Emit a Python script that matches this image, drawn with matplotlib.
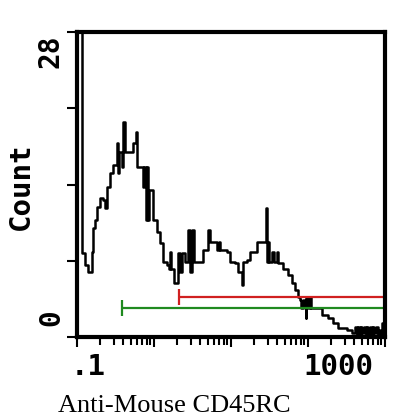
import matplotlib
matplotlib.use("Agg")
import matplotlib.pyplot as plt
from matplotlib.ticker import LogLocator, NullFormatter

# histogram bins (left edge, fluorescence) and counts
fluor = [0.100, 0.116, 0.127, 0.139, 0.155, 0.161, 0.170, 0.180, 0.199, 0.218,
         0.228, 0.243, 0.268, 0.294, 0.328, 0.340, 0.350, 0.362, 0.380, 0.396,
         0.420, 0.459, 0.533, 0.580, 0.610, 0.692, 0.720, 0.750, 0.780, 0.804,
         0.840, 0.870, 0.933, 0.980, 1.08, 1.20, 1.31, 1.46, 1.55, 1.61,
         1.68, 1.80, 2.05, 2.20, 2.31, 2.53, 2.80, 2.94, 3.10, 3.30,
         3.73, 4.33, 5.03, 5.30, 6.20, 6.60, 7.00, 7.20, 8.87, 9.71,
         11.3, 12.3, 13.9, 14.3, 16.1, 17.7, 21.8, 27.7, 28.5, 29.4,
         30.5, 31.2, 34.1, 36.0, 39.5, 41.0, 43.3, 47.3, 55.0, 62.0,
         67.8, 74.1, 78.7, 82.0, 86.0, 91.4, 93.0, 95.0, 100, 106,
         110, 116, 135, 152, 182, 211, 245, 321, 373, 408,
         430, 446, 470, 488, 510, 534, 560, 584, 610, 639,
         670, 698, 730, 764, 800, 836, 870, 914, 960, 1000]
count = [29.0, 7.7, 6.6, 6.0, 7.8, 10.0, 10.7, 11.9, 12.8, 12.6,
         11.8, 13.8, 15.1, 15.8, 17.8, 15.1, 17.0, 17.0, 15.6, 19.7,
         17.0, 17.0, 17.8, 18.8, 15.6, 15.6, 13.8, 15.6, 10.7, 15.6,
         10.7, 13.5, 13.5, 10.7, 9.6, 8.6, 6.9, 6.6, 6.2, 7.8,
         6.2, 5.0, 7.7, 6.0, 7.7, 6.9, 9.8, 6.0, 9.8, 6.9,
         6.9, 8.0, 9.8, 8.7, 8.7, 8.0, 8.7, 8.0, 7.8, 6.9,
         6.8, 6.0, 4.8, 6.9, 7.1, 7.8, 8.7, 8.7, 11.8, 6.9,
         8.7, 6.9, 7.8, 6.9, 7.8, 6.8, 6.8, 6.2, 5.7, 5.0,
         4.3, 3.7, 3.4, 2.7, 3.4, 2.7, 1.7, 3.7, 2.7, 3.7,
         2.7, 2.7, 2.7, 2.0, 1.7, 1.3, 0.8, 0.6, 0.4, 0.9,
         0.1, 0.9, 0.2, 0.9, 0.4, 0.9, 0.2, 0.9, 0.3, 0.9,
         0.2, 0.9, 0.4, 0.9, 0.2, 0.6, 0.2, 1.3, 2.2, 2.2]

# gates: (start, end, level, colour)
gate_starts = [0.38, 2.1]
gate_ends = [1000, 1000]
gate_levels = [2.66, 3.67]
gate_colors = ['#1f8a1f', '#d02020']

y_ticks = [0, 7, 14, 21, 28]

W, H = 406, 417
fig = plt.figure(figsize=(W / 100, H / 100), dpi=100)
ax = fig.add_axes([77 / W, (H - 337) / H, (385 - 77) / W, (337 - 32) / H])

ax.step(fluor, count, where='post', color='black', lw=1.8)

for x0, x1, lev, c in zip(gate_starts, gate_ends, gate_levels, gate_colors):
    ax.hlines(lev, x0, x1, color=c, lw=1.6)
    ax.vlines([x0, x1], lev - 0.7, lev + 0.7, color=c, lw=1.6)

ax.set_xscale('log')
ax.set_xlim(0.1, 1000)
ax.set_ylim(0, 28)

ax.xaxis.set_major_locator(LogLocator(base=10, numticks=10))
ax.xaxis.set_minor_locator(LogLocator(base=10, subs=range(2, 10), numticks=20))
ax.xaxis.set_major_formatter(NullFormatter())
ax.xaxis.set_minor_formatter(NullFormatter())
ax.set_yticks(y_ticks)
ax.set_yticklabels([])
ax.tick_params(axis='both', which='both', direction='out', width=1.5, color='black')
ax.tick_params(axis='both', which='major', length=7)
ax.tick_params(axis='x', which='minor', length=6)

for s in ax.spines.values():
    s.set_linewidth(3)

mono = dict(family='DejaVu Sans Mono', weight='bold')
fig.text(51 / W, 1 - 35 / H, '28', rotation=90, ha='center', va='top', fontsize=20, **mono)
fig.text(51 / W, 1 - 326 / H, '0', rotation=90, ha='center', va='bottom', fontsize=20, **mono)
fig.text(21 / W, 1 - 186 / H, 'Count', rotation=90, ha='center', va='center', fontsize=21, **mono)
fig.text(88 / W, 1 - 367 / H, '.1', ha='center', va='center', fontsize=21, **mono)
fig.text(338 / W, 1 - 367 / H, '1000', ha='center', va='center', fontsize=21, **mono)
fig.text(174 / W, 1 - 406 / H, 'Anti-Mouse CD45RC', ha='center', va='center',
         fontsize=19, family='Liberation Serif')

fig.savefig('out.png', dpi=100)
